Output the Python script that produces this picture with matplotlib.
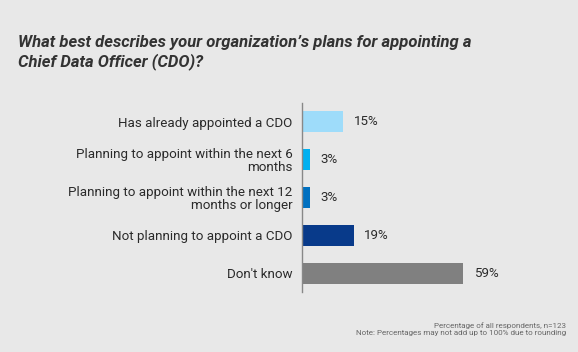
import matplotlib.pyplot as plt

categories = ["Has already appointed a CDO",
              "Planning to appoint within the next 6\nmonths",
              "Planning to appoint within the next 12\nmonths or longer",
              "Not planning to appoint a CDO",
              "Don't know"]
values = [15, 3, 3, 19, 59]
colors = ["#9edcfa", "#00b0f0", "#0070c0", "#083a8a", "#808080"]

bg = "#e8e8e8"
plt.rcParams['font.family'] = ['Roboto', 'DejaVu Sans']

fig = plt.figure(figsize=(5.78, 3.52), dpi=100, facecolor=bg)
ax = fig.add_axes([302/578, 1 - 292/352, 260/578, 189/352], facecolor=bg)

ypos = list(range(len(categories)))
ax.barh(ypos, values, height=0.56, color=colors)
ax.set_ylim(len(categories) - 0.5, -0.5)
ax.set_xlim(0, 95)

for y, v in zip(ypos, values):
    ax.text(v + 3.8, y, f"{v}%", va="center", ha="left", fontsize=9.6, color="#2a2a2a")

ax.set_yticks(ypos)
ax.set_yticklabels(categories, fontsize=9.6, color="#2a2a2a", linespacing=1.0)
ax.tick_params(axis="y", length=0, pad=7)
ax.set_xticks([])
for s in ["top", "right", "bottom"]:
    ax.spines[s].set_visible(False)
ax.spines["left"].set_color("#888888")
ax.spines["left"].set_linewidth(1)

fig.text(18/578, 1 - 35/352, "What best describes your organization\u2019s plans for appointing a\nChief Data Officer (CDO)?",
         fontsize=12, fontweight="bold", fontstyle="italic", color="#333333",
         va="top", ha="left", linespacing=1.2)

fig.text(566/578, 1 - 329/352, "Percentage of all respondents, n=123\nNote: Percentages may not add up to 100% due to rounding",
         fontsize=5.8, color="#666666", ha="right", va="center", multialignment="right", linespacing=1.3)

fig.savefig("out.png", dpi=100, facecolor=bg)
